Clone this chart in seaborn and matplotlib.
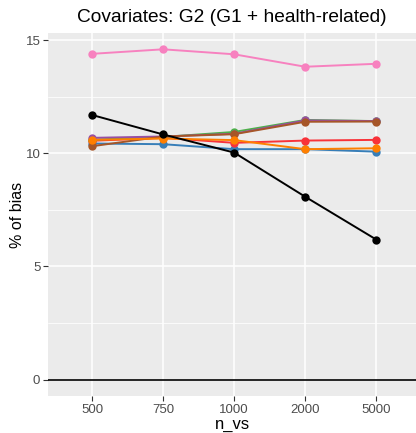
import matplotlib
matplotlib.use("Agg")
import matplotlib.pyplot as plt
import seaborn as sns
import pandas as pd

n_vs = ["500", "750", "1000", "2000", "5000"]

pink   = [14.39, 14.59, 14.37, 13.82, 13.95]
black  = [11.69, 10.83, 10.03, 8.08, 6.19]
green  = [10.60, 10.72, 10.94, 11.47, 11.42]
purple = [10.68, 10.74, 10.86, 11.45, 11.42]
brown  = [10.31, 10.74, 10.84, 11.39, 11.40]
red    = [10.55, 10.68, 10.46, 10.56, 10.59]
orange = [10.59, 10.65, 10.58, 10.18, 10.22]
blue   = [10.43, 10.40, 10.18, 10.18, 10.07]

series_names = ["blue", "red", "green", "purple", "brown", "orange", "pink", "black"]
series_vals = [blue, red, green, purple, brown, orange, pink, black]
colors = {"blue": "#377EB8", "red": "#F8333A", "green": "#4DAF4A", "purple": "#984EA3",
          "brown": "#A65628", "orange": "#FF7F00", "pink": "#F781BF", "black": "#000000"}

rows = []
for name, vals in zip(series_names, series_vals):
    for x, v in zip(n_vs, vals):
        rows.append({"n_vs": x, "bias": v, "method": name})
df = pd.DataFrame(rows)

sns.set_theme(style="darkgrid")
plt.rcParams["font.family"] = ["Liberation Sans", "DejaVu Sans"]

fig = plt.figure(figsize=(4.16, 4.33), dpi=100)
W, H = 416, 433
left, right, top, bottom = 48, 416, 33, 396
ax = fig.add_axes([left / W, 1 - bottom / H, (right - left) / W, (bottom - top) / H])
ax.set_facecolor("#EBEBEB")

sns.lineplot(data=df, x="n_vs", y="bias", hue="method", palette=colors,
             marker="o", markersize=6, markeredgewidth=0, linewidth=1.4,
             legend=False, ax=ax, sort=False)

ax.axhline(0, color="black", linewidth=1.2)

ax.set_xlim(-0.62, 4.56)
ax.set_ylim(-0.72, 15.31)
ax.set_yticks([0, 5, 10, 15])
ax.set_yticks([2.5, 7.5, 12.5], minor=True)
ax.grid(which="major", color="white", linewidth=1.1)
ax.grid(which="minor", axis="y", color="white", linewidth=0.55)
ax.grid(which="minor", axis="x", visible=False)
for s in ax.spines.values():
    s.set_visible(False)

ax.tick_params(axis="both", which="major", length=3.5, width=0.8, color="#333333",
               labelsize=9.5, labelcolor="#4D4D4D", pad=2, left=True, bottom=True)
ax.tick_params(axis="both", which="minor", length=0)
ax.set_xlabel("n_vs", fontsize=12, color="black", labelpad=1)
ax.set_ylabel("% of bias", fontsize=11.5, color="black", labelpad=0)

fig.text((left + right) / 2 / W, 1 - 17 / H, "Covariates: G2 (G1 + health-related)",
         ha="center", va="center", fontsize=13.8, color="black")

fig.savefig("out.png", dpi=100)
